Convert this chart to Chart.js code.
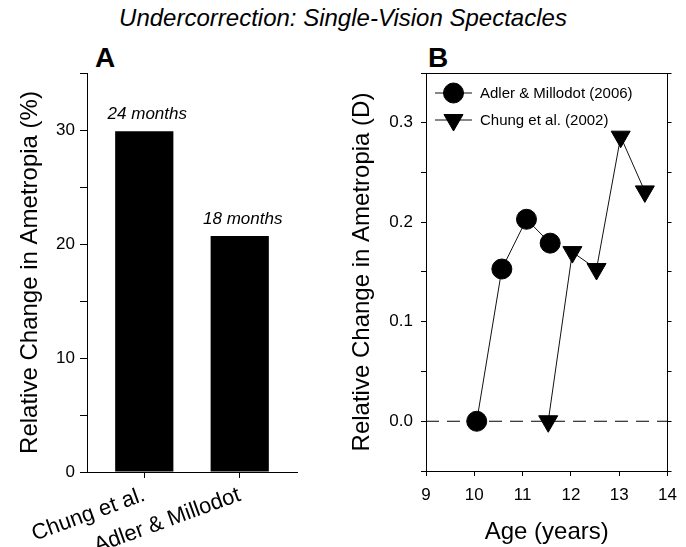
<!DOCTYPE html>
<html>
<head>
<meta charset="utf-8">
<title>Undercorrection: Single-Vision Spectacles</title>
<script src="https://cdn.jsdelivr.net/npm/chart.js@4.4.0/dist/chart.umd.min.js"></script>
<style>
  html, body { margin: 0; padding: 0; background: #fff; }
  #page { position: relative; width: 686px; height: 547px; overflow: hidden;
          font-family: "Liberation Sans", Arial, sans-serif; color: #000; }
  #title { position: absolute; left: 0; top: 4px; width: 686px; text-align: center;
           font-size: 24px; font-style: italic; line-height: 28px; }
  .panel-tag { position: absolute; top: 44px; font-size: 28px; font-weight: bold; line-height: 28px; }
  canvas { position: absolute; top: 0; }
</style>
</head>
<body>
<div id="page">
  <div id="title">Undercorrection: Single-Vision Spectacles</div>
  <div class="panel-tag" style="left:95px">A</div>
  <div class="panel-tag" style="left:428px">B</div>
  <canvas id="chart-a" width="330" height="547" style="left:0"></canvas>
  <canvas id="chart-b" width="356" height="547" style="left:330px"></canvas>
</div>
<script>
// Panel A - bars
const barCategories = ['Chung et al.', 'Adler & Millodot'];
const barValues = [29.9, 20.7];
const barPeriods = ['24 months', '18 months'];
const pctMajorTicks = [0, 10, 20, 30];
const pctMinorTicks = [5, 15, 25, 35];

// Panel B - change vs age
const adlerAge = [10.05, 10.57, 11.08, 11.57];
const adlerChange = [0.0, 0.153, 0.203, 0.179];
const chungAge = [11.53, 12.03, 12.53, 13.03, 13.53];
const chungChange = [0.0, 0.170, 0.153, 0.286, 0.231];
const ageTicks = [9, 10, 11, 12, 13, 14];
const diopterMajorTicks = [0.0, 0.1, 0.2, 0.3];
const diopterMinorTicks = [-0.05, 0.05, 0.15, 0.25, 0.35];
const zeroLineAge = [9, 14];

const FONT = '"Liberation Sans", Arial, sans-serif';
Chart.defaults.font.family = FONT;
Chart.defaults.color = '#000';
Chart.defaults.animation = false;

const sortedTicks = (a, b) => [...a, ...b].sort((p, q) => p - q).map(v => ({ value: v }));
const isMajor = (list, v) => list.some(m => Math.abs(m - v) < 1e-9);

// 柱顶的时间标注
const barLabels = {
    id: 'barLabels',
    afterDatasetsDraw(chart) {
        const ctx = chart.ctx;
        ctx.save();
        ctx.font = 'italic 17px ' + FONT;
        ctx.fillStyle = '#000';
        ctx.textAlign = 'center';
        ctx.textBaseline = 'alphabetic';
        chart.getDatasetMeta(0).data.forEach((bar, i) => {
            ctx.fillText(barPeriods[i], bar.x + 3, bar.y - 12);
        });
        ctx.restore();
    }
};

// 图内图例
const insideLegend = {
    id: 'insideLegend',
    afterDraw(chart) {
        const ctx = chart.ctx;
        const area = chart.chartArea;
        [0, 1].forEach((di, r) => {
            const ds = chart.data.datasets[di];
            const y = area.top + 20 + r * 27;
            const cx = area.left + 27.5;
            ctx.save();
            ctx.strokeStyle = ds.borderColor;
            ctx.lineWidth = 1;
            ctx.beginPath();
            ctx.moveTo(area.left + 9, y);
            ctx.lineTo(area.left + 46, y);
            ctx.stroke();
            ctx.fillStyle = ds.pointBackgroundColor;
            ctx.strokeStyle = ds.pointBorderColor;
            Chart.helpers.drawPoint(ctx, {
                pointStyle: ds.pointStyle, rotation: ds.pointRotation || 0,
                radius: ds.pointRadius, borderWidth: 1
            }, cx, y);
            ctx.font = '15px ' + FONT;
            ctx.fillStyle = '#000';
            ctx.textAlign = 'left';
            ctx.textBaseline = 'middle';
            ctx.fillText(ds.label, area.left + 54, y + 1);
            ctx.restore();
        });
    }
};

new Chart(document.getElementById('chart-a'), {
    type: 'bar',
    data: {
        datasets: [{
            data: barValues.map((v, i) => ({ x: i, y: v })),
            backgroundColor: '#000',
            borderWidth: 0,
            categoryPercentage: 1,
            barPercentage: 0.61
        }]
    },
    options: {
        responsive: false,
        layout: { padding: { left: 0, right: 33, top: 73, bottom: 0 } },
        plugins: { legend: { display: false }, tooltip: { enabled: false } },
        scales: {
            x: {
                type: 'linear', min: -0.6, max: 1.6, offset: false,
                afterBuildTicks: s => { s.ticks = barCategories.map((c, i) => ({ value: i })); },
                afterFit: s => { s.height = 75; },
                grid: { offset: false, drawOnChartArea: false, tickLength: 6, color: '#000' },
                border: { display: true, color: '#000', width: 1 },
                ticks: {
                    autoSkip: false, minRotation: 20, maxRotation: 20, padding: 4,
                    font: { size: 22 }, color: '#000',
                    callback: v => barCategories[v] ?? ''
                }
            },
            y: {
                min: 0, max: 35,
                afterBuildTicks: s => { s.ticks = sortedTicks(pctMajorTicks, pctMinorTicks); },
                afterFit: s => { s.width = 87; },
                grid: { drawOnChartArea: false, tickLength: 7, color: '#000' },
                border: { display: true, color: '#000', width: 1 },
                ticks: {
                    autoSkip: false, padding: 5, font: { size: 17 }, color: '#000',
                    callback: v => isMajor(pctMajorTicks, v) ? String(v) : ''
                },
                title: {
                    display: true, text: 'Relative Change in Ametropia (%)',
                    font: { size: 24 }, color: '#000', padding: { top: 16, bottom: 0 }
                }
            }
        }
    },
    plugins: [barLabels]
});

new Chart(document.getElementById('chart-b'), {
    type: 'line',
    data: {
        datasets: [{
            label: 'Adler & Millodot (2006)',
            data: adlerAge.map((x, i) => ({ x, y: adlerChange[i] })),
            borderColor: '#111', borderWidth: 1,
            pointStyle: 'circle', pointRadius: 10,
            pointBackgroundColor: '#000', pointBorderColor: '#000', pointBorderWidth: 1
        }, {
            label: 'Chung et al. (2002)',
            data: chungAge.map((x, i) => ({ x, y: chungChange[i] })),
            borderColor: '#111', borderWidth: 1,
            pointStyle: 'triangle', pointRotation: 180, pointRadius: 11,
            pointBackgroundColor: '#000', pointBorderColor: '#000', pointBorderWidth: 1
        }, {
            label: 'zero',
            data: zeroLineAge.map(x => ({ x, y: 0 })),
            borderColor: '#000', borderWidth: 1, borderDash: [13, 8],
            pointRadius: 0
        }]
    },
    options: {
        responsive: false,
        layout: { padding: { left: 0, right: 10, top: 73, bottom: 0 } },
        plugins: { legend: { display: false }, tooltip: { enabled: false } },
        scales: {
            x: {
                type: 'linear', position: 'bottom', min: 9, max: 14,
                afterBuildTicks: s => { s.ticks = ageTicks.map(v => ({ value: v })); },
                afterFit: s => { s.height = 76; },
                grid: { drawOnChartArea: false, tickLength: 5, color: '#000' },
                border: { display: true, color: '#000', width: 1 },
                ticks: { autoSkip: false, maxRotation: 0, padding: 9, font: { size: 17 }, color: '#000',
                         callback: v => String(v) },
                title: { display: true, text: 'Age (years)', font: { size: 24 }, color: '#000',
                         padding: { top: 0, bottom: 0 } }
            },
            x2: {
                type: 'linear', position: 'top', min: 9, max: 14,
                grid: { display: false },
                ticks: { display: false },
                border: { display: true, color: '#000', width: 1 },
                afterFit: s => { s.height = 0; }
            },
            y: {
                type: 'linear', position: 'left', min: -0.05, max: 0.35,
                afterBuildTicks: s => { s.ticks = sortedTicks(diopterMajorTicks, diopterMinorTicks); },
                afterFit: s => { s.width = 96; },
                grid: { drawOnChartArea: false, tickLength: 5, color: '#000' },
                border: { display: true, color: '#000', width: 1 },
                ticks: {
                    autoSkip: false, padding: 8, font: { size: 17 }, color: '#000',
                    callback: v => isMajor(diopterMajorTicks, v) ? v.toFixed(1) : ''
                },
                title: {
                    display: true, text: 'Relative Change in Ametropia (D)',
                    font: { size: 24 }, color: '#000', padding: { top: 18, bottom: 0 }
                }
            },
            y2: {
                type: 'linear', position: 'right', min: -0.05, max: 0.35,
                afterBuildTicks: s => { s.ticks = sortedTicks(diopterMajorTicks, diopterMinorTicks); },
                afterFit: s => { s.width = 7; },
                grid: { drawOnChartArea: false, tickLength: 4, color: '#000' },
                border: { display: true, color: '#000', width: 1 },
                ticks: { display: false }
            }
        }
    },
    plugins: [insideLegend]
});
</script>
</body>
</html>
